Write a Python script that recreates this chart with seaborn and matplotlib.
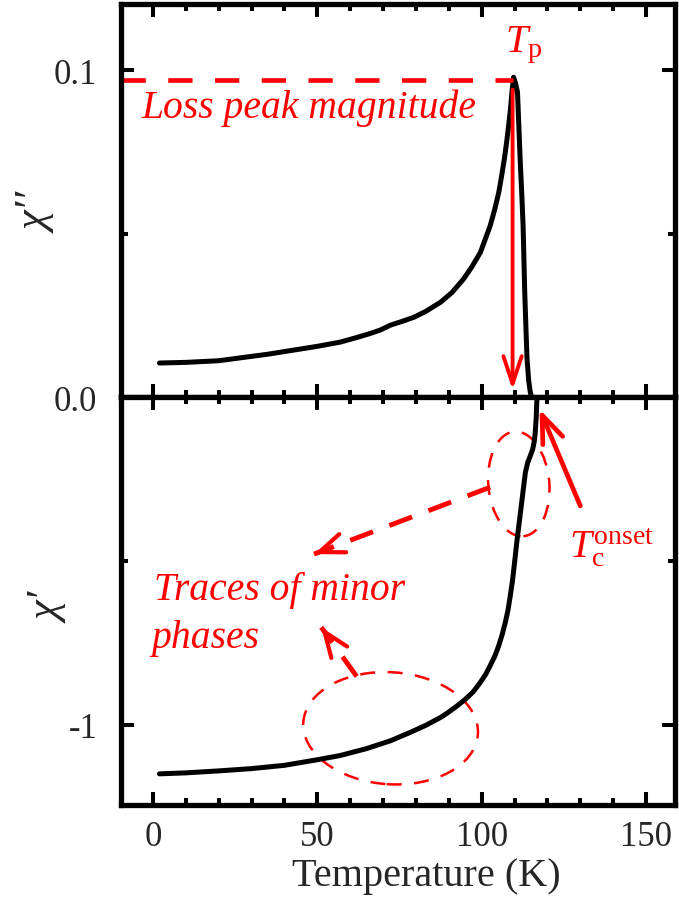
import matplotlib
matplotlib.use("Agg")
import matplotlib.pyplot as plt
import matplotlib.transforms as mtransforms
from matplotlib.patches import Ellipse
from matplotlib.ticker import MultipleLocator, FixedLocator, FixedFormatter
import pandas as pd
import seaborn as sns

# Imaginary part (loss) of the AC susceptibility vs temperature
temp_loss = [2, 10, 20, 35, 50, 57, 62, 66, 69.2, 72.3, 76, 79.4, 83, 87.5,
             91, 94.5, 97, 99.6, 101, 102.6, 104, 105.2, 106, 106.9, 107.6,
             108.2, 108.8, 109.2, 109.7, 110.3, 110.9, 111.3, 111.7, 112.2,
             112.6, 113.1, 113.5, 113.8, 114.3, 114.8, 115.2]
chi_loss = [0.0104, 0.0106, 0.0111, 0.0131, 0.0155, 0.0168, 0.0182, 0.0194,
            0.0205, 0.0220, 0.0232, 0.0244, 0.0262, 0.0290, 0.0320, 0.0361,
            0.0398, 0.0442, 0.0480, 0.0524, 0.0575, 0.0626, 0.0672, 0.0728,
            0.0780, 0.0830, 0.0885, 0.0932, 0.0978, 0.0960, 0.0932, 0.0830,
            0.0728, 0.0620, 0.0524, 0.0320, 0.0200, 0.0116, 0.0050, 0.0014,
            0.0000]

# Real part of the AC susceptibility vs temperature
temp_real = [2, 10, 20, 30, 40, 50, 57, 65, 72.3, 78.4, 83, 87.5, 89.5, 92.5,
             95.1, 97.5, 99.6, 101.2, 102.6, 104, 105.2, 106.3, 107.2, 108.0,
             108.7, 109.4, 110.0, 110.6, 111.2, 111.8, 112.3, 112.8, 113.3,
             114.0, 114.8, 115.5, 116.0, 116.3, 116.6, 116.8]
chi_real = [-1.149, -1.146, -1.140, -1.133, -1.123, -1.106, -1.093, -1.072,
            -1.048, -1.022, -1.001, -0.977, -0.964, -0.942, -0.921, -0.898,
            -0.870, -0.846, -0.819, -0.790, -0.758, -0.722, -0.687, -0.650,
            -0.606, -0.558, -0.505, -0.450, -0.400, -0.352, -0.311, -0.270,
            -0.230, -0.200, -0.179, -0.160, -0.135, -0.108, -0.060, -0.006]

x_major = [0, 50, 100, 150]
x_labels = ["0", "50", "100", "150"]
loss_major = [0.0, 0.1]
loss_labels = ["0.0", "0.1"]
real_major = [-1.0]
real_labels = ["-1"]

# Characteristic points marked on the curves
peak_temp = 109.4
peak_value = 0.097
onset_temp = 117.6

RED = "#ff0000"
sns.set_theme(style="ticks")
plt.rcParams["font.family"] = ["Liberation Serif", "DejaVu Serif"]
plt.rcParams["mathtext.fontset"] = "custom"
plt.rcParams["mathtext.rm"] = "Liberation Serif"
plt.rcParams["mathtext.it"] = "Liberation Serif:italic"

fig = plt.figure(figsize=(6.79, 9.04), dpi=100)
ax_top = fig.add_axes([0.1782, 0.5597, 0.8159, 0.4348])
ax_bot = fig.add_axes([0.1782, 0.1084, 0.8159, 0.4513], sharex=ax_top)

df_loss = pd.DataFrame({"T": temp_loss, "chi": chi_loss})
df_real = pd.DataFrame({"T": temp_real, "chi": chi_real})
sns.lineplot(data=df_loss, x="T", y="chi", ax=ax_top, color="black", lw=3.6,
             sort=False, estimator=None)
sns.lineplot(data=df_real, x="T", y="chi", ax=ax_bot, color="black", lw=3.6,
             sort=False, estimator=None)

ax_top.set_xlim(-9.7, 158.8)
ax_top.set_ylim(0, 0.1202)
ax_bot.set_ylim(-1.244, 0)

for ax in (ax_top, ax_bot):
    for sp in ax.spines.values():
        sp.set_visible(True)
        sp.set_linewidth(3.8)
        sp.set_color("black")
    ax.xaxis.set_major_locator(FixedLocator(x_major))
    ax.xaxis.set_minor_locator(MultipleLocator(10))
    ax.tick_params(which="both", direction="in", top=True, right=True,
                   width=2.9, color="black", labelsize=25)
    ax.tick_params(axis="x", which="both", pad=11)
    ax.tick_params(axis="y", which="both", pad=17)
    ax.tick_params(which="major", length=9.5)
    ax.tick_params(which="minor", length=5)
    ax.set_xlabel("")
    ax.set_ylabel("")

ax_top.yaxis.set_major_locator(FixedLocator(loss_major))
ax_top.yaxis.set_major_formatter(FixedFormatter(loss_labels))
ax_top.yaxis.set_minor_locator(MultipleLocator(0.05))
ax_top.tick_params(axis="x", labelbottom=False)

ax_bot.yaxis.set_major_locator(FixedLocator(real_major))
ax_bot.yaxis.set_major_formatter(FixedFormatter(real_labels))
ax_bot.yaxis.set_minor_locator(MultipleLocator(0.5))
ax_bot.xaxis.set_major_formatter(FixedFormatter(x_labels))
ax_bot.set_xlabel("Temperature (K)", fontsize=29)
ax_bot.xaxis.set_label_coords(0.552, -0.128)

fig.text(0.055, 0.764, "χ′′", fontsize=32, style="italic",
         rotation=90, ha="center", va="center")
fig.text(0.073, 0.3274, "χ′", fontsize=32, style="italic",
         rotation=90, ha="center", va="center")

# --- loss panel annotations ---
ax_top.plot([-9.7, peak_temp], [peak_value, peak_value], color=RED, lw=3.3,
            dashes=(5.3, 4.9), solid_capstyle="butt", clip_on=False)
ax_top.annotate("", xy=(peak_temp, 0.0022), xytext=(peak_temp, 0.094),
                arrowprops=dict(arrowstyle="->,head_length=0.9,head_width=0.3",
                                color=RED, lw=2.8, shrinkA=0, shrinkB=0,
                                mutation_scale=22))
ax_top.text(-3.6, 0.0856, "Loss peak magnitude", color=RED, fontsize=28.5,
            style="italic", ha="left", va="baseline")
ax_top.text(107.2, 0.1058, r"$T_{\mathrm{p}}$", color=RED, fontsize=29,
            ha="left", va="baseline")

# --- real panel annotations ---
ax_bot.annotate("", xy=(onset_temp, -0.037), xytext=(130.0, -0.332),
                arrowprops=dict(arrowstyle="->,head_length=0.9,head_width=0.35",
                                color=RED, lw=3.4, shrinkA=0, shrinkB=0,
                                mutation_scale=22))
ax_bot.text(126.6, -0.487, r"$T_{\mathrm{c}}^{\mathrm{onset}}$", color=RED,
            fontsize=28.5, ha="left", va="baseline")
ax_bot.text(0.3, -0.616, "Traces of minor", color=RED, fontsize=28.5,
            style="italic", ha="left", va="baseline")
ax_bot.text(-0.6, -0.762, "phases", color=RED, fontsize=28.5,
            style="italic", ha="left", va="baseline")


def ring(ax, cx, cy, w_in, h_in, angle):
    tr = fig.dpi_scale_trans + mtransforms.ScaledTranslation(cx, cy, ax.transData)
    e = Ellipse((0, 0), w_in, h_in, angle=angle, transform=tr, fill=False,
                edgecolor=RED, lw=1.8, linestyle=(0, (6, 5)))
    ax.add_patch(e)


def dashed_arrow(ax, tail, tip):
    ax.plot([tail[0], tip[0]], [tail[1], tip[1]], color=RED, lw=3.5,
            dashes=(5, 3.6), solid_capstyle="butt")
    back = (tip[0] + 0.08 * (tail[0] - tip[0]), tip[1] + 0.08 * (tail[1] - tip[1]))
    ax.annotate("", xy=tip, xytext=back,
                arrowprops=dict(arrowstyle="->,head_length=0.9,head_width=0.35",
                                color=RED, lw=3.0, shrinkA=0, shrinkB=0,
                                mutation_scale=20))


ring(ax_bot, 111.3, -0.265, 0.61, 1.05, 5)
ring(ax_bot, 72.3, -1.01, 1.75, 1.12, -4)
dashed_arrow(ax_bot, (102.6, -0.275), (49.0, -0.479))
dashed_arrow(ax_bot, (62.0, -0.852), (51.2, -0.702))

fig.savefig("out.png", dpi=100)
